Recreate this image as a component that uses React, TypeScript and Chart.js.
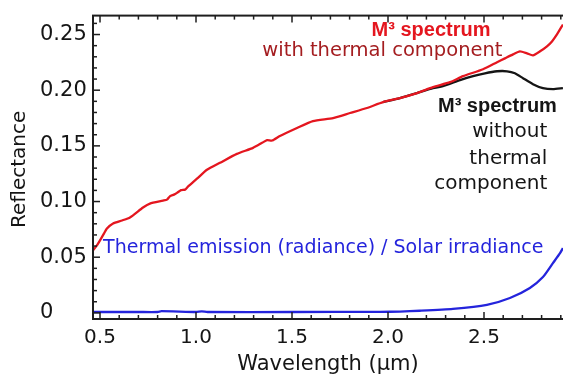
import React, { useEffect, useRef } from "react";
import { Chart, registerables } from "chart.js";

Chart.register(...registerables);

// ---- data (wavelength in µm, reflectance) ----
const RED_X = [
  0.464, 0.484, 0.5, 0.521, 0.536, 0.568, 0.615, 0.656, 0.724, 0.76, 0.828, 0.849, 0.865, 0.885,
  0.901, 0.922, 0.943, 0.958, 1.005, 1.057, 1.125, 1.213, 1.297, 1.344, 1.37, 1.396, 1.437, 1.526,
  1.609, 1.714, 1.802, 1.89, 1.974, 2.062, 2.151, 2.234, 2.323, 2.391, 2.495, 2.568, 2.609, 2.651,
  2.687, 2.724, 2.755, 2.792, 2.828, 2.854, 2.88, 2.911,
];
const RED_Y = [
  0.0562, 0.0606, 0.0651, 0.0714, 0.0758, 0.0803, 0.083, 0.0857, 0.0946, 0.0982, 0.1008, 0.1017,
  0.1048, 0.1062, 0.1078, 0.1102, 0.1107, 0.1134, 0.1205, 0.1285, 0.1348, 0.1428, 0.1482, 0.1527,
  0.1552, 0.1548, 0.1589, 0.1661, 0.1723, 0.175, 0.1795, 0.184, 0.1893, 0.1929, 0.1974, 0.2027,
  0.2072, 0.2126, 0.2188, 0.2251, 0.2286, 0.2322, 0.2349, 0.2331, 0.2313, 0.2349, 0.2394, 0.2438,
  0.2501, 0.259,
];
const BLACK_X = [
  1.974, 2.062, 2.151, 2.234, 2.286, 2.375, 2.443, 2.505, 2.568, 2.62, 2.661, 2.703, 2.755, 2.807,
  2.859, 2.911,
];
const BLACK_Y = [
  0.1893, 0.1929, 0.1974, 0.2018, 0.2036, 0.209, 0.2126, 0.2152, 0.217, 0.217, 0.2152, 0.2108,
  0.2054, 0.2018, 0.2009, 0.2018,
];
const BLUE_X = [
  0.464, 0.7, 0.8, 0.82, 1.0, 1.03, 1.06, 1.5, 1.958, 2.062, 2.166, 2.338, 2.515, 2.635, 2.739,
  2.807, 2.859, 2.896, 2.911,
];
const BLUE_Y = [
  0.0008, 0.0008, 0.0008, 0.0016, 0.0008, 0.0014, 0.0008, 0.0008, 0.0009, 0.0012, 0.0019, 0.0036,
  0.0072, 0.0134, 0.0224, 0.0322, 0.0447, 0.0536, 0.0581,
];

const X_TICKS = [0.5, 1.0, 1.5, 2.0, 2.5];
const X_TICK_LABELS = ["0.5", "1.0", "1.5", "2.0", "2.5"];
const Y_TICKS = [0, 0.05, 0.1, 0.15, 0.2, 0.25];
const Y_TICK_LABELS = ["0", "0.05", "0.10", "0.15", "0.20", "0.25"];

const X_TITLE = "Wavelength (µm)";
const Y_TITLE = "Reflectance";
const LABEL_WITH = ["M³ spectrum", "with thermal component"];
const LABEL_WITHOUT = ["M³ spectrum", "without", "thermal", "component"];
const LABEL_THERMAL = "Thermal emission (radiance) / Solar irradiance";

const RED = "#e4161f";
const DARK_RED = "#a41d20";
const BLACK = "#151515";
const BLUE = "#2424dc";
const FONT = "DejaVu Sans";
const BOLD_FONT = "Liberation Sans";

const pts = (xs: number[], ys: number[]) => xs.map((x, i) => ({ x, y: ys[i] }));

const decorPlugin = {
  id: "decor",
  beforeDatasetsDraw(chart: any) {
    const { ctx, scales, chartArea } = chart;
    const { x, y } = scales;
    const text = (
      t: string,
      xv: number,
      yv: number,
      font: string,
      color: string,
      align: CanvasTextAlign
    ) => {
      ctx.save();
      ctx.font = font;
      ctx.fillStyle = color;
      ctx.textAlign = align;
      ctx.textBaseline = "middle";
      ctx.fillText(t, x.getPixelForValue(xv), y.getPixelForValue(yv));
      ctx.restore();
    };
    // annotations for "with thermal component"
    text(LABEL_WITH[0], 2.224, 0.2537, `bold 20px "${BOLD_FONT}"`, RED, "center");
    text(LABEL_WITH[1], 1.971, 0.2349, `19.5px "${FONT}"`, DARK_RED, "center");
    // annotations for "without thermal component"
    text(LABEL_WITHOUT[0], 2.57, 0.1857, `bold 20px "${BOLD_FONT}"`, BLACK, "center");
    text(LABEL_WITHOUT[1], 2.83, 0.1625, `20px "${FONT}"`, BLACK, "right");
    text(LABEL_WITHOUT[2], 2.83, 0.1384, `20px "${FONT}"`, BLACK, "right");
    text(LABEL_WITHOUT[3], 2.83, 0.116, `20px "${FONT}"`, BLACK, "right");
    // thermal emission label
    text(LABEL_THERMAL, 0.516, 0.058, `19px "${FONT}"`, BLUE, "left");

    // y title
    ctx.save();
    ctx.translate(20, (chartArea.top + chartArea.bottom) / 2 + 2);
    ctx.rotate(-Math.PI / 2);
    ctx.font = `20px "${FONT}"`;
    ctx.fillStyle = BLACK;
    ctx.textAlign = "center";
    ctx.textBaseline = "middle";
    ctx.fillText(Y_TITLE, 0, 0);
    ctx.restore();

    // x title, centred on the visible part of the plot
    ctx.save();
    ctx.font = `21px "${FONT}"`;
    ctx.fillStyle = BLACK;
    ctx.textAlign = "center";
    ctx.textBaseline = "middle";
    ctx.fillText(X_TITLE, (chartArea.left + 563) / 2, chartArea.bottom + 46);
    ctx.restore();
  },
  afterDatasetsDraw(chart: any) {
    const { ctx, chartArea: a, scales } = chart;
    const { x, y } = scales;
    ctx.save();
    ctx.strokeStyle = "#1e1e1e";
    ctx.lineWidth = 2;
    ctx.strokeRect(a.left, a.top, a.right - a.left, a.bottom - a.top);
    ctx.lineWidth = 1.5;
    const seg = (x1: number, y1: number, x2: number, y2: number) => {
      ctx.beginPath();
      ctx.moveTo(x1, y1);
      ctx.lineTo(x2, y2);
      ctx.stroke();
    };
    for (let i = 5; i <= 29; i++) {
      const px = x.getPixelForValue(i / 10);
      const len = i % 5 === 0 ? 7 : 4;
      seg(px, a.bottom, px, a.bottom - len);
      seg(px, a.top, px, a.top + len);
    }
    for (let i = 0; i <= 26; i++) {
      const py = y.getPixelForValue(i / 100);
      const len = i % 5 === 0 ? 7 : 4;
      seg(a.left, py, a.left + len, py);
      seg(a.right, py, a.right - len, py);
    }
    ctx.restore();
  },
};

export default function App() {
  const ref = useRef<HTMLCanvasElement | null>(null);

  useEffect(() => {
    if (!ref.current) return;
    const chart = new Chart(ref.current, {
      type: "line",
      data: {
        datasets: [
          {
            label: "M3 with thermal component",
            data: pts(RED_X, RED_Y),
            borderColor: RED,
            borderWidth: 2.3,
            pointRadius: 0,
            tension: 0.2,
            order: 0,
          },
          {
            label: "M3 without thermal component",
            data: pts(BLACK_X, BLACK_Y),
            borderColor: BLACK,
            borderWidth: 2.3,
            pointRadius: 0,
            tension: 0.2,
            order: 1,
          },
          {
            label: "Thermal emission / Solar irradiance",
            data: pts(BLUE_X, BLUE_Y),
            borderColor: BLUE,
            borderWidth: 2.3,
            pointRadius: 0,
            tension: 0.2,
            order: 2,
          },
        ],
      },
      options: {
        animation: false,
        responsive: false,
        maintainAspectRatio: false,
        events: [],
        layout: { padding: { left: 40, top: 14, right: 20, bottom: 0 } },
        plugins: { legend: { display: false }, tooltip: { enabled: false } },
        scales: {
          x: {
            type: "linear",
            min: 0.4635,
            max: 3.0,
            grid: { display: false, drawTicks: false },
            border: { display: false },
            afterBuildTicks: (s: any) => {
              s.ticks = X_TICKS.map((v) => ({ value: v }));
            },
            afterFit: (s: any) => {
              s.height = 58;
            },
            ticks: {
              autoSkip: false,
              maxRotation: 0,
              padding: 7,
              color: BLACK,
              font: { family: FONT, size: 20 },
              callback: (v: any) => X_TICK_LABELS[X_TICKS.indexOf(v)] ?? "",
            },
            title: { display: false },
          },
          y: {
            type: "linear",
            min: -0.0055,
            max: 0.267,
            grid: { display: false, drawTicks: false },
            border: { display: false },
            afterBuildTicks: (s: any) => {
              s.ticks = Y_TICKS.map((v) => ({ value: v }));
            },
            afterFit: (s: any) => {
              s.width = 53;
            },
            ticks: {
              autoSkip: false,
              crossAlign: "far",
              color: BLACK,
              font: { family: FONT, size: 21 },
              callback: (v: any) => Y_TICK_LABELS[Y_TICKS.indexOf(v)] ?? "",
            },
          },
        },
      },
      plugins: [decorPlugin],
    } as any);
    return () => chart.destroy();
  }, []);

  return (
    <div
      style={{
        position: "fixed",
        left: 0,
        top: 0,
        width: 563,
        height: 377,
        overflow: "hidden",
        background: "#fff",
      }}
    >
      <canvas ref={ref} width={600} height={377} style={{ display: "block", width: 600, height: 377 }} />
    </div>
  );
}
